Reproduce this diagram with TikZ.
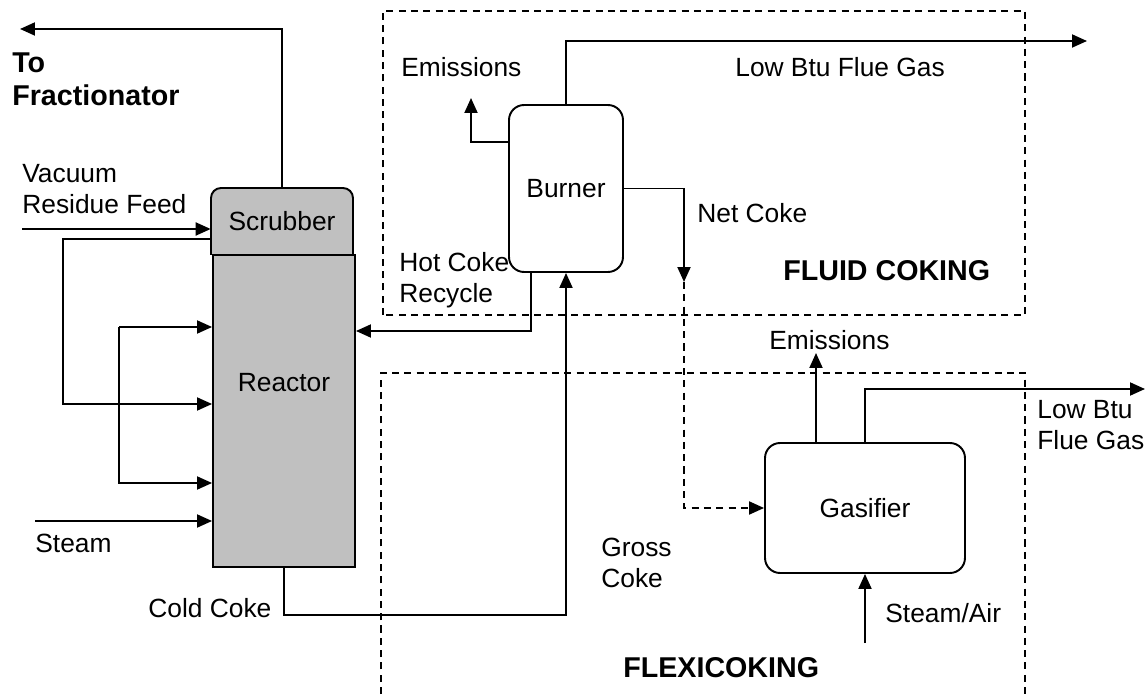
\documentclass[tikz,border=0pt]{standalone}
\usepackage{fontspec}
\setmainfont{Liberation Sans}
\usetikzlibrary{arrows.meta}
\definecolor{unitgray}{RGB}{192,192,192}

\begin{document}
\begin{tikzpicture}[x=0.02cm,y=0.02cm,
    lbl/.style={font=\fontsize{15pt}{17.5pt}\selectfont,inner sep=0pt,align=left},
    bold lbl/.style={font=\fontsize{16.3pt}{19pt}\selectfont\bfseries,inner sep=0pt,align=left},
    flow/.style={line width=1.1pt,-{Triangle[length=0.3cm,width=0.26cm]}},
    zone/.style={line width=1pt,dash pattern=on 4pt off 3pt},
    vessel/.style={draw,line width=1.1pt,rounded corners=0.3cm,inner sep=0pt,font=\fontsize{15pt}{17.5pt}\selectfont}]
  \useasboundingbox (0,0) rectangle (1147,694);
  \draw[zone] (383,379) rectangle (1025,683);
  \draw[zone] (381,0) |- (1025,321) -- (1025,0);
  \draw[line width=1.1pt,fill=unitgray] (211,439) -- (211,496) arc[start angle=180,end angle=90,radius=0.2cm]
    -- (343,506) arc[start angle=90,end angle=0,radius=0.2cm] -- (353,439);
  \node[draw,fill=unitgray,line width=1.1pt,minimum width=2.84cm,minimum height=6.24cm,inner sep=0pt,
    label={[lbl,yshift=0.56cm]center:Reactor}] (reactor) at (284,283) {};
  \node[lbl,minimum width=2.84cm,minimum height=1.34cm,align=center] (scrub) at (282,472.5) {Scrubber};
  \node[vessel,minimum width=2.28cm,minimum height=3.34cm] (burner) at (566,505.5) {Burner};
  \node[vessel,minimum width=4cm,minimum height=2.6cm] (gasifier) at (865,186) {Gasifier};
  \coordinate (tofrac) at (20,665);
  \coordinate (feed) at (22,465);
  \coordinate (loopA) at (63,290);
  \coordinate (loopB) at (119,367);
  \coordinate (loopC) at (119,211);
  \coordinate (steam) at (35,173);
  \coordinate (hotcoke) at (531,363);
  \coordinate (burnemis) at (471,596);
  \coordinate (fluegas) at (1087,653);
  \coordinate (netcoke) at (684,412);
  \coordinate (gasemis) at (816,341);
  \coordinate (gasflue) at (1145,305);
  \coordinate (steamair) at (865,51);
  \draw[flow] (scrub.north) |- (tofrac);
  \draw[flow] (feed) -- (feed -| scrub.west);
  \draw[flow] (scrub.west |- 0,455) -| (loopA) -- (loopA -| reactor.west);
  \draw[flow] (loopB) -- (loopB -| reactor.west);
  \draw[flow] (loopB) -- (loopC) -- (loopC -| reactor.west);
  \draw[flow] (steam) -- (steam -| reactor.west);
  \draw[flow] (reactor.south) |- (burner.south |- 0,79) -- (burner.south);
  \draw[flow] (hotcoke |- burner.south) -- (hotcoke) -- (hotcoke -| reactor.east);
  \draw[flow] (burner.west |- 0,552) -| (burnemis);
  \draw[flow] (burner.north) |- (fluegas);
  \draw[flow] (burner.east) -| (netcoke);
  \draw[flow,dash pattern=on 4pt off 3pt] (netcoke) |- (gasifier.west);
  \draw[flow] (gasemis |- gasifier.north) -- (gasemis);
  \draw[flow] (gasifier.north) |- (gasflue);
  \draw[flow] (steamair) -- (gasifier.south);
  \node[bold lbl,anchor=west] (fraclbl) at (12,615) {To\\Fractionator};
  \node[lbl,anchor=west] (feedlbl) at (22,505) {Vacuum\\Residue Feed};
  \node[lbl,anchor=west] (steamlbl) at (35,151) {Steam};
  \node[lbl,anchor=west] (coldlbl) at (148,86) {Cold Coke};
  \node[lbl,anchor=west] (emislbl) at (401,627) {Emissions};
  \node[lbl,anchor=west] (fluelbl) at (735,627) {Low Btu Flue Gas};
  \node[lbl,anchor=west] (netlbl) at (697,481) {Net Coke};
  \node[bold lbl,anchor=west] (fluidlbl) at (783,423) {FLUID COKING};
  \node[lbl,anchor=west] (hotlbl) at (399,414) {Hot Coke\\Recycle};
  \node[lbl,anchor=west] (gasemislbl) at (769,354) {Emissions};
  \node[lbl,anchor=west] (gasfluelbl) at (1037,269) {Low Btu\\Flue Gas};
  \node[lbl,anchor=west] (steamairlbl) at (885,81) {Steam/Air};
  \node[lbl,anchor=west] (grosslbl) at (601,131) {Gross\\Coke};
  \node[bold lbl,anchor=west] (flexilbl) at (623,26) {FLEXICOKING};
\end{tikzpicture}
\end{document}
